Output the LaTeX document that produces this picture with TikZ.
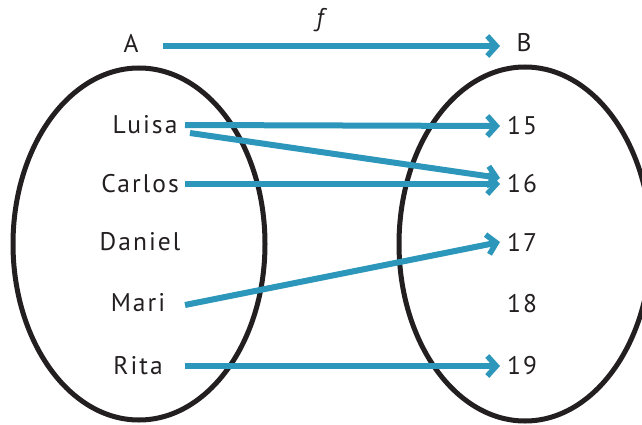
\documentclass[tikz,border=0pt]{standalone}
\usepackage{fontspec}
\setmainfont{PT Sans}[LetterSpace=8]
\usetikzlibrary{arrows.meta}
\definecolor{maparrow}{HTML}{2C97BA}
\definecolor{setline}{HTML}{231F20}
\tikzset{
  setoval/.style={draw=setline, line width=5pt},
  elem/.style={inner sep=2pt, text=setline, font=\fontsize{25.5}{30}\selectfont},
  maps/.style={draw=maparrow, line width=6pt,
    -{Straight Barb[length=9pt, width=20pt, line width=5.5pt]}},
}
\begin{document}
\begin{tikzpicture}[x=1pt, y=-1pt]
  \useasboundingbox (0,0) rectangle (642,425);
  % the two sets
  \draw[setoval] (139,244) ellipse [x radius=126, y radius=176];
  \begin{scope}
    \clip (0,0) rectangle (642,425);
    \draw[setoval] (525,244) ellipse [x radius=126, y radius=177];
  \end{scope}

  % set names and the map name
  \node[elem] (A) at (131,43) {A};
  \node[elem] (B) at (524,43) {B};
  \node[elem, font=\fontsize{25.5}{30}\selectfont\itshape] (f) at (320,20) {f};

  % domain
  \node[elem] (luisa)  at (145,125) {Luisa};
  \node[elem] (carlos) at (140,184) {Carlos};
  \node[elem] (daniel) at (140,242) {Daniel};
  \node[elem] (mari)   at (138,303) {Mari};
  \node[elem] (rita)   at (138,366) {Rita};

  % codomain
  \node[elem] (n15) at (522,126) {15};
  \node[elem] (n16) at (522,184) {16};
  \node[elem] (n17) at (522,242) {17};
  \node[elem] (n18) at (522,304) {18};
  \node[elem] (n19) at (522,366) {19};

  % common start and end columns of the arrows
  \coordinate (xs) at (185,0);
  \coordinate (xe) at (500,0);
  \coordinate (topstart) at (163,46);
  \coordinate (topend) at (500,46);

  \draw[maps] (topstart) -- (topend);
  \draw[maps] (luisa -| xs) -- (n15 -| xe);
  \draw[maps] ([yshift=-8pt]luisa -| xs) ++(5,0) -- ([yshift=6pt]n16 -| xe);
  \draw[maps] (carlos -| xs) -- (n16 -| xe);
  \draw[maps] ([yshift=-2pt]mari -| xs) -- (n17 -| xe);
  \draw[maps] (rita -| xs) -- (n19 -| xe);
\end{tikzpicture}
\end{document}
